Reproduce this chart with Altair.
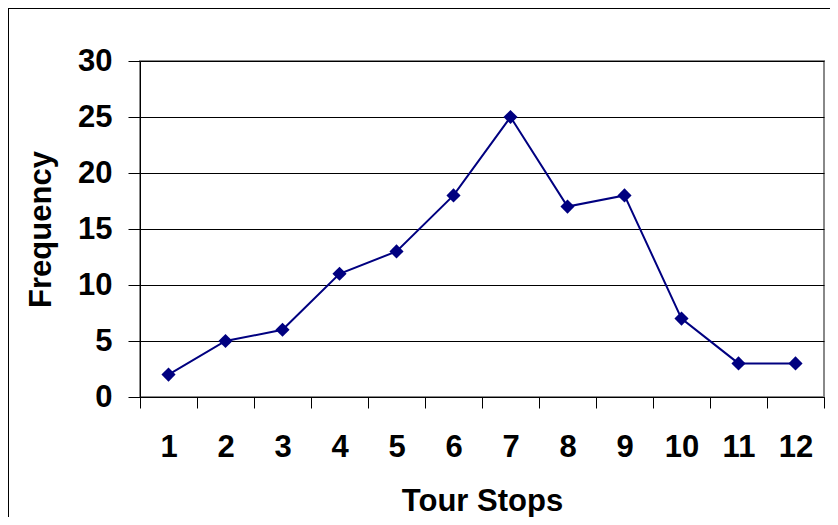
import altair as alt
import pandas as pd

stops = [str(i) for i in range(1, 13)]
freq = [2, 5, 6, 11, 13, 18, 25, 17, 18, 7, 3, 3]
y_ticks = [0, 5, 10, 15, 20, 25, 30]

df = pd.DataFrame({"stop": stops, "freq": freq})
FONT = "Liberation Sans"
FS = 31

x = alt.X("stop:N", sort=stops, title="Tour Stops",
          scale=alt.Scale(paddingInner=0, paddingOuter=0),
          axis=alt.Axis(labelAngle=0, tickBand="extent", grid=False,
                        tickSize=11, tickColor="#000", domainColor="#000",
                        labelFont=FONT, labelFontSize=FS, labelFontWeight="bold",
                        labelColor="#000", labelPadding=24,
                        titleFont=FONT, titleFontSize=FS, titleFontWeight="bold",
                        titleColor="#000", titlePadding=24))
y = alt.Y("freq:Q", title="Frequency",
          scale=alt.Scale(domain=[0, 30], nice=False),
          axis=alt.Axis(values=y_ticks, grid=True, gridColor="#000", gridOpacity=1,
                        tickSize=12, tickColor="#000", domainColor="#000",
                        labelFont=FONT, labelFontSize=FS, labelFontWeight="bold",
                        labelColor="#000", labelPadding=16,
                        titleFont=FONT, titleFontSize=FS, titleFontWeight="bold",
                        titleColor="#000", titlePadding=20))

border = alt.Chart(df).mark_rect(fill=None, stroke="#000", strokeWidth=2).encode(
    x=alt.value(-132), x2=alt.value(720), y=alt.value(-53), y2=alt.value(500))

line = alt.Chart(df).mark_line(color="#000080", strokeWidth=2).encode(x=x, y=y)
pts = alt.Chart(df).mark_point(shape="diamond", filled=True, color="#000080",
                               size=200, opacity=1).encode(x=x, y=y)

chart = alt.layer(line, pts, border).properties(
    width=684, height=336,
    autosize=alt.AutoSizeParams(type="none"),
    padding={"left": 132, "top": 53, "right": 6, "bottom": 120},
).configure_view(stroke="#888", strokeWidth=2)

chart.save("out.html", embed_options={"renderer": "svg", "actions": False})
